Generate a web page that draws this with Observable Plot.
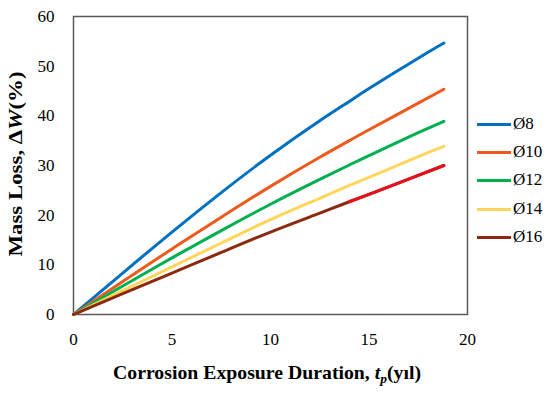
<!DOCTYPE html>
<html><head><meta charset="utf-8">
<script src="https://cdn.jsdelivr.net/npm/d3@7"></script>
<script src="https://cdn.jsdelivr.net/npm/@observablehq/plot@0.6"></script>
<style>
body{margin:0;background:#fff;}
#wrap{position:relative;width:550px;height:394px;}
.leg{position:absolute;left:477px;font-family:"Liberation Serif",serif;font-size:17px;color:#000;display:flex;align-items:center;}
.leg span.sw{display:inline-block;width:34px;height:3px;margin-right:2px;}
</style>
</head><body><div id="wrap"></div>
<script>
const years = [0, 2.5, 5, 7.5, 10, 12.5, 14, 15, 17.5, 18.8];
const seriesNames = ["Ø8", "Ø10", "Ø12", "Ø14", "Ø16"];
const d8  = [0, 8.35, 16.6, 24.55, 32.05, 39.0, 42.9, 45.5, 51.6, 54.65];
const d10 = [0, 6.65, 13.2, 19.6, 25.8, 31.65, 35.0, 37.2, 42.55, 45.35];
const d12 = [0, 5.75, 11.4, 16.9, 22.2, 27.2, 30.1, 32.0, 36.6, 38.9];
const d14 = [0, 4.8, 9.6, 14.4, 19.1, 23.4, 26.0, 27.6, 31.8, 33.85];
const d16 = [0, 4.2, 8.35, 12.5, 16.6, 20.4, 22.7, 24.2, 28.0, 30.0];
const xTicks = [0, 5, 10, 15, 20];
const yTicks = [0, 10, 20, 30, 40, 50, 60];

const colors = ["#0070C0", "#EE5A1C", "#00B050", "#FFD55A", "#8B2A10"];
const tailColor = "#E8101C";

const allSeries = [d8, d10, d12, d14, d16];
const rows = [];
allSeries.forEach((vals, i) => vals.forEach((v, j) => rows.push({t: years[j], w: v, s: seriesNames[i]})));

const serif = "'Liberation Serif', 'Times New Roman', serif";
const plot = Plot.plot({
  width: 550, height: 394,
  marginLeft: 73, marginRight: 83, marginTop: 16, marginBottom: 80,
  style: {fontFamily: serif, fontSize: "17px", color: "#000", background: "#fff"},
  x: {domain: [0, 20], ticks: xTicks, tickSize: 0, tickPadding: 18, label: null},
  y: {domain: [0, 60], ticks: yTicks, tickSize: 0, tickPadding: 19, label: null},
  color: {domain: seriesNames, range: colors},
  marks: [
    Plot.frame({stroke: "#595959", strokeWidth: 1.5}),
    Plot.line(rows, {x: "t", y: "w", z: "s", stroke: "s", strokeWidth: 3, curve: "natural"}),
    Plot.line(rows.filter(r => r.s === "Ø16" && r.t >= 14), {x: "t", y: "w", stroke: tailColor, strokeWidth: 3, curve: "natural"})
  ]
});
const wrap = document.getElementById("wrap");
wrap.appendChild(plot);

const svg = d3.select(plot);
svg.selectAll("g[aria-label='x-axis tick label'] text, g[aria-label='y-axis tick label'] text").attr("fill", "#000");
// x axis title
const xt = svg.append("text").attr("x", 267).attr("y", 379).attr("text-anchor", "middle")
  .attr("textLength", 308).attr("lengthAdjust", "spacingAndGlyphs")
  .attr("font-family", serif).attr("font-weight", "bold").attr("font-size", "19px").attr("fill", "#000");
xt.append("tspan").text("Corrosion Exposure Duration, ");
xt.append("tspan").attr("font-style", "italic").text("t");
xt.append("tspan").attr("font-style", "italic").attr("font-size", "13px").attr("dy", 4).text("p");
xt.append("tspan").attr("dy", -4).text("(yıl)");
// y axis title
const yt = svg.append("text").attr("transform", "translate(22,164) rotate(-90)").attr("text-anchor", "middle")
  .attr("textLength", 185).attr("lengthAdjust", "spacingAndGlyphs")
  .attr("font-family", serif).attr("font-weight", "bold").attr("font-size", "19px").attr("fill", "#000");
yt.append("tspan").text("Mass Loss, Δ");
yt.append("tspan").attr("font-style", "italic").text("W");
yt.append("tspan").text("(%)");

// legend
const legY = [124, 152, 180, 209, 237];
seriesNames.forEach((n, i) => {
  const d = document.createElement("div");
  d.className = "leg";
  d.style.top = (legY[i] - 10) + "px";
  d.style.height = "20px";
  d.innerHTML = `<span class="sw" style="background:${colors[i]}"></span><span>${n}</span>`;
  wrap.appendChild(d);
});
plot.style.position = "absolute"; plot.style.left = "0"; plot.style.top = "0";
</script>
</body></html>
